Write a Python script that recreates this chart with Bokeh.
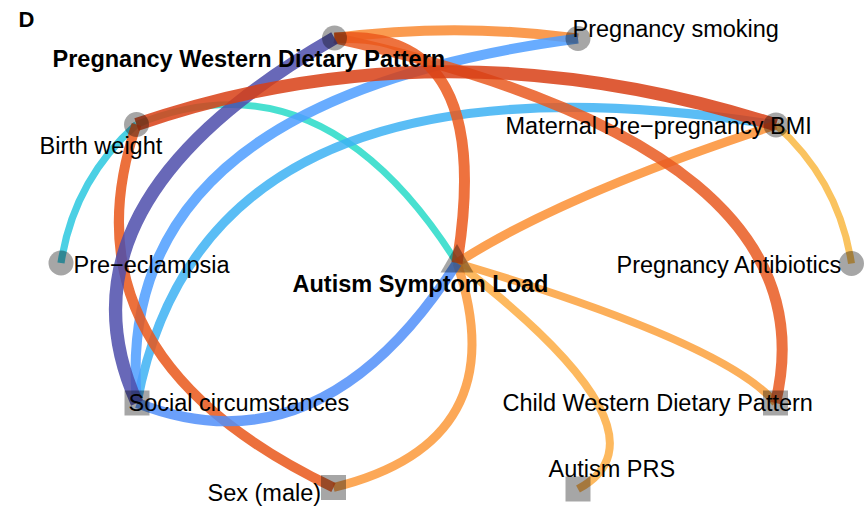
from bokeh.plotting import figure
from bokeh.models import Range1d, ColumnDataSource
from bokeh.embed import file_html
from bokeh.resources import INLINE
from bokeh.core.properties import value

# ---------------- data ----------------
node_names = ["Pregnancy Western Dietary Pattern", "Pregnancy smoking",
              "Maternal Pre\u2212pregnancy BMI", "Pregnancy Antibiotics",
              "Child Western Dietary Pattern", "Autism PRS", "Sex (male)",
              "Social circumstances", "Pre\u2212eclampsia", "Birth weight",
              "Autism Symptom Load"]
# layout coordinates of the nodes (screen-like units)
node_x = [334, 577.5, 775.5, 851, 775, 577.5, 333, 136.5, 60.5, 136, 456.5]
node_y = [37.5, 38, 124.5, 263, 402.5, 488.5, 487, 402.5, 262.5, 124, 262.5]
node_shape = ["circle", "circle", "circle", "circle", "square", "square",
              "square", "square", "circle", "circle", "triangle"]

edge_from = [0, 1, 0, 9, 0, 0, 9, 9, 9, 2, 2, 2, 10, 10, 10, 10]
edge_to = [1, 7, 7, 2, 4, 10, 6, 8, 10, 7, 10, 3, 7, 6, 4, 5]
edge_weight = [0.25, -0.25, -0.325, 0.325, 0.275, 0.275, 0.25, -0.18, -0.17,
               -0.225, 0.225, 0.175, -0.25, 0.225, 0.2, 0.2]

# ---------------- styles ----------------
edge_color = ["#F98931", "#4D9DFF", "#4D4DAB", "#D83F15", "#E95B21", "#EB591C",
              "#E9571A", "#2CC8DF", "#28DAC8", "#3DB2F3", "#FB8F33", "#F9B843",
              "#518FF9", "#FB993A", "#FBA13D", "#FDAD43"]
edge_pivot = [0.5, 0.7, 0.68, 0.48, 0.8, 0.26, 0.4, 0.5, 0.4, 0.7, 0.65, 0.5,
              0.6, 0.5, 0.8, 1.0]
edge_curve = [-0.066, 0.437, 0.42, -0.166, -0.41, -0.575, 0.435, 0.18, -0.41,
              0.445, 0.06, -0.18, -0.4, -0.545, -0.1, -0.45]
width_scale = 40

label_x = [52, 572, 505, 616, 502, 548, 207, 128, 73, 39, 292]
label_y = [58.5, 28, 125, 264, 402, 468, 492, 402, 264, 145, 283.7]
label_bold = [True, False, False, False, False, False, False, False, False,
              False, True]

# ---------------- figure ----------------
p = figure(width=864, height=509, x_range=Range1d(0, 864), y_range=Range1d(509, 0),
           x_axis_location=None, y_axis_location=None, toolbar_location=None,
           output_backend="svg", min_border=0)
p.outline_line_color = None
p.xgrid.visible = False
p.ygrid.visible = False
p.background_fill_color = "white"

# edges as quadratic curves, thinnest first
order = sorted(range(len(edge_from)), key=lambda i: abs(edge_weight[i]))
ex0, ey0, ex1, ey1, ecx, ecy, ecol, ew = [], [], [], [], [], [], [], []
for i in order:
    x0, y0 = node_x[edge_from[i]], node_y[edge_from[i]]
    x1, y1 = node_x[edge_to[i]], node_y[edge_to[i]]
    dx, dy = x1 - x0, y1 - y0
    cx = x0 + edge_pivot[i] * dx + edge_curve[i] * (-dy)
    cy = y0 + edge_pivot[i] * dy + edge_curve[i] * dx
    ex0.append(x0); ey0.append(y0); ex1.append(x1); ey1.append(y1)
    ecx.append(cx); ecy.append(cy)
    ecol.append(edge_color[i]); ew.append(abs(edge_weight[i]) * width_scale)

esrc = ColumnDataSource(dict(x0=ex0, y0=ey0, x1=ex1, y1=ey1, cx=ecx, cy=ecy,
                             color=ecol, w=ew))
p.quadratic(x0="x0", y0="y0", x1="x1", y1="y1", cx="cx", cy="cy", source=esrc,
            line_color="color", line_width="w", line_alpha=0.85, line_cap="butt")

# nodes
for shape, size in (("circle", 25), ("square", 25), ("triangle", 33)):
    idx = [i for i, s in enumerate(node_shape) if s == shape]
    p.scatter([node_x[i] for i in idx], [node_y[i] for i in idx], marker=shape,
              size=size, fill_color="black", fill_alpha=0.35, line_color=None)

# labels
for bold in (False, True):
    idx = [i for i in range(len(node_names)) if label_bold[i] == bold]
    p.text([label_x[i] for i in idx], [label_y[i] for i in idx],
           text=[node_names[i] for i in idx],
           text_font=value("Liberation Sans"), text_font_size="23.5px",
           text_font_style="bold" if bold else "normal",
           text_align="left", text_baseline="alphabetic", text_color="black")

p.text([18], [19], text=["D"], text_font=value("Liberation Sans"),
       text_font_size="22px", text_font_style="bold", text_align="left",
       text_baseline="alphabetic", text_color="black")

open("out.html", "w").write(file_html(p, INLINE))
